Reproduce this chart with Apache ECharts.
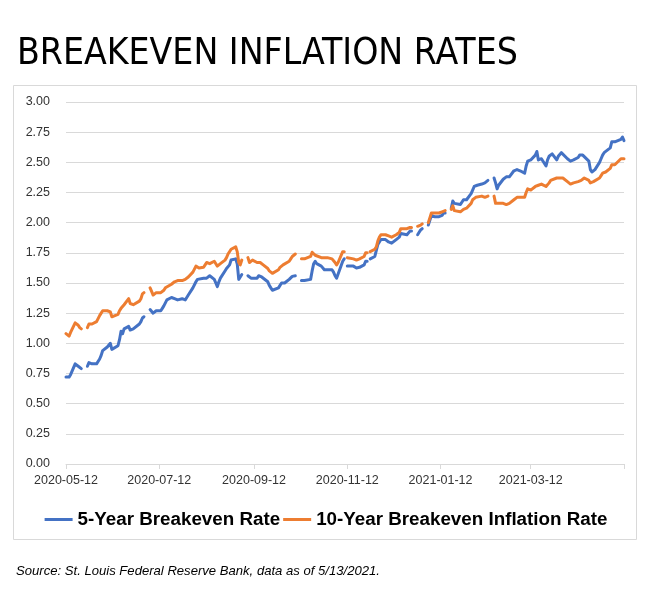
<!DOCTYPE html>
<html lang="en">
<head>
<meta charset="UTF-8">
<title>Breakeven Inflation Rates</title>
<script src="https://cdn.jsdelivr.net/npm/echarts@6.0.0/dist/echarts.min.js"></script>
<style>
  html, body { margin: 0; padding: 0; background: #fff; }
  #chart { width: 652px; height: 599px; }
</style>
</head>
<body>
<div id="chart"></div>
<script>
// trading days run from firstDay to lastDay (Mon-Fri); holidays are null in the series
var firstDay = '2020-05-12';
var lastDay = '2021-05-12';
var tickDates = ['2020-05-12', '2020-07-12', '2020-09-12', '2020-11-12', '2021-01-12', '2021-03-12', '2021-05-12'];
var labelDates = ['2020-05-12', '2020-07-12', '2020-09-12', '2020-11-12', '2021-01-12', '2021-03-12'];
var seriesNames = ['5-Year Breakeven Rate', '10-Year Breakeven Inflation Rate'];

var fiveYear = [
  // May 2020
  0.72, 0.71, 0.72, 0.74, 0.83, 0.82, 0.81, 0.80, 0.79, null, 0.81, 0.84, 0.83, 0.83,
  // Jun
  0.83, 0.83, 0.87, 0.90, 0.94, 0.97, 0.98, 1.00, 0.95, 0.95, 0.98, 1.03, 1.10, 1.08, 1.12,
  1.14, 1.11, 1.10, 1.12, 1.12, 1.16, 1.18,
  // Jul
  1.21, 1.22, null, 1.28, 1.27, 1.25, 1.26, 1.27, 1.27, 1.29, 1.31, 1.32, 1.36,
  1.38, 1.39, 1.37, 1.36, 1.36, 1.37, 1.37, 1.36, 1.38, 1.40,
  // Aug
  1.46, 1.47, 1.51, 1.53, 1.53, 1.54, 1.55, 1.54, 1.55, 1.56, 1.53, 1.50, 1.47, 1.51, 1.54,
  1.60, 1.62, 1.63, 1.65, 1.69, 1.70,
  // Sep
  1.66, 1.53, 1.52, 1.57, null, 1.56, 1.555, 1.54, 1.55, 1.54, 1.56, 1.57, 1.55, 1.54,
  1.51, 1.48, 1.46, 1.44, 1.43, 1.46, 1.48, 1.50,
  // Oct
  1.49, 1.50, 1.53, 1.54, 1.555, 1.56, 1.56, null, 1.52, 1.52, 1.52, 1.52,
  1.53, 1.60, 1.66, 1.68, 1.66, 1.64, 1.63, 1.61, 1.60, 1.61,
  // Nov
  1.61, 1.59, 1.56, 1.54, 1.55, 1.68, 1.70, null, 1.64, 1.64, 1.64, 1.63, 1.625, 1.63, 1.63,
  1.65, 1.68, 1.68, null, 1.70, 1.72,
  // Dec
  1.77, 1.82, 1.84, 1.86, 1.86, 1.86, 1.84, 1.83, 1.83, 1.86, 1.87, 1.88, 1.91, 1.91,
  1.90, 1.91, 1.93, 1.93, null, 1.90, 1.92, 1.94, 1.95,
  // Jan 2021
  null, 1.98, 2.02, 2.06, 2.07, 2.05, 2.05, 2.04, 2.06, 2.08, 2.08,
  null, 2.12, 2.18, 2.16, 2.15, 2.15, 2.14, 2.19, 2.20, 2.19,
  // Feb
  2.24, 2.27, 2.30, 2.31, 2.31, 2.32, 2.33, 2.33, 2.34, 2.35,
  null, 2.37, 2.33, 2.28, 2.31, 2.36, 2.36, 2.38, 2.38, 2.38,
  // Mar
  2.43, 2.44, 2.44, 2.43, 2.43, 2.41, 2.47, 2.51, 2.52, 2.52, 2.56, 2.59, 2.52, 2.52, 2.53,
  2.47, 2.52, 2.55, 2.56, 2.57, 2.52, 2.55, 2.56,
  // Apr
  2.58, 2.58, 2.53, 2.53, 2.51, 2.51, 2.52, 2.54, 2.56, 2.56, 2.56, 2.55,
  2.51, 2.44, 2.42, 2.43, 2.44, 2.50, 2.53, 2.56, 2.58, 2.59,
  // May
  2.62, 2.67, 2.66, 2.67, 2.67, 2.69, 2.71, 2.68
];

var tenYear = [
  // May 2020
  1.08, 1.07, 1.06, 1.09, 1.17, 1.16, 1.15, 1.13, 1.12, null, 1.13, 1.16, 1.15, 1.16,
  // Jun
  1.18, 1.19, 1.23, 1.25, 1.27, 1.27, 1.27, 1.26, 1.22, 1.22, 1.24, 1.27, 1.29, 1.30, 1.32,
  1.37, 1.33, 1.32, 1.32, 1.33, 1.35, 1.37,
  // Jul
  1.41, 1.42, null, 1.46, 1.43, 1.40, 1.41, 1.42, 1.42, 1.42, 1.44, 1.46, 1.46,
  1.49, 1.50, 1.51, 1.51, 1.52, 1.52, 1.52, 1.53, 1.53, 1.55,
  // Aug
  1.59, 1.60, 1.64, 1.63, 1.625, 1.63, 1.65, 1.67, 1.66, 1.66, 1.68, 1.66, 1.64, 1.63, 1.66,
  1.69, 1.71, 1.74, 1.75, 1.78, 1.80,
  // Sep
  1.76, 1.67, 1.65, 1.69, null, 1.71, 1.67, 1.68, 1.69, 1.67, 1.675, 1.67, 1.66, 1.65,
  1.62, 1.60, 1.59, 1.58, 1.58, 1.61, 1.63, 1.63,
  // Oct
  1.65, 1.66, 1.68, 1.70, 1.72, 1.73, 1.74, null, 1.70, 1.70, 1.70, 1.70,
  1.72, 1.755, 1.75, 1.73, 1.72, 1.71, 1.71, 1.71, 1.70, 1.71,
  // Nov
  1.70, 1.69, 1.67, 1.65, 1.67, 1.76, 1.76, null, 1.71, 1.71, 1.70, 1.69, 1.69, 1.70, 1.70,
  1.72, 1.75, 1.75, null, 1.76, 1.78,
  // Dec
  1.80, 1.85, 1.88, 1.90, 1.90, 1.90, 1.89, 1.88, 1.88, 1.90, 1.91, 1.92, 1.95, 1.95,
  1.95, 1.95, 1.96, 1.96, null, 1.97, 1.97, 1.98, 1.99,
  // Jan 2021
  null, 2.00, 2.04, 2.08, 2.09, 2.08, 2.08, 2.09, 2.09, 2.10, 2.10,
  null, 2.11, 2.14, 2.10, 2.09, 2.09, 2.09, 2.11, 2.12, 2.12,
  // Feb
  2.16, 2.19, 2.20, 2.21, 2.22, 2.22, 2.21, 2.21, 2.22, 2.22,
  null, 2.22, 2.16, 2.15, 2.16, 2.16, 2.17, 2.15, 2.15, 2.16,
  // Mar
  2.19, 2.20, 2.21, 2.21, 2.21, 2.21, 2.25, 2.28, 2.27, 2.27, 2.30, 2.31, 2.31, 2.31, 2.32,
  2.30, 2.31, 2.33, 2.35, 2.36, 2.37, 2.36, 2.37,
  // Apr
  2.37, 2.37, 2.34, 2.33, 2.32, 2.32, 2.33, 2.34, 2.34, 2.35, 2.36, 2.37,
  2.35, 2.33, 2.33, 2.34, 2.34, 2.37, 2.39, 2.41, 2.42, 2.42,
  // May
  2.45, 2.48, 2.48, 2.48, 2.49, 2.53, 2.54, 2.53
];

function toTime(s) {
  var p = s.split('-');
  return new Date(+p[0], +p[1] - 1, +p[2]).getTime();
}
function pad(n) { return n < 10 ? '0' + n : '' + n; }
function fmtDate(t) {
  var d = new Date(t);
  return d.getFullYear() + '-' + pad(d.getMonth() + 1) + '-' + pad(d.getDate());
}

// weekdays between the first and last date
var tradingDays = [];
var cur = new Date(toTime(firstDay));
var end = new Date(toTime(lastDay));
while (cur <= end) {
  if (cur.getDay() !== 0 && cur.getDay() !== 6) tradingDays.push(cur.getTime());
  cur.setDate(cur.getDate() + 1);
}

function pairs(values) {
  return tradingDays.map(function (t, i) { return [t, values[i] == null ? '-' : values[i]]; });
}

var myChart = echarts.init(document.getElementById('chart'));
var option = {
  animation: false,
  backgroundColor: '#ffffff',
  title: {
    text: 'BREAKEVEN INFLATION RATES',
    left: 12,
    top: 31,
    textStyle: { fontFamily: 'DejaVu Sans Condensed', fontSize: 37, fontWeight: 'normal', color: '#000' }
  },
  graphic: [
    {
      type: 'rect',
      shape: { x: 13.5, y: 85.5, width: 623, height: 454 },
      style: { fill: 'none', stroke: '#d9d9d9', lineWidth: 1 },
      z: -1
    },
    {
      type: 'text',
      left: 16,
      top: 565,
      style: {
        text: 'Source: St. Louis Federal Reserve Bank, data as of 5/13/2021.',
        fontFamily: 'Liberation Sans', fontStyle: 'italic', fontSize: 13.1, fill: '#000'
      }
    }
  ],
  legend: {
    data: seriesNames,
    left: 'center',
    top: 505,
    icon: 'rect',
    itemWidth: 28,
    itemHeight: 3,
    itemGap: 3,
    textStyle: { fontFamily: 'Liberation Sans', fontSize: 18.8, fontWeight: 'bold', color: '#000' }
  },
  grid: { left: 66, right: 28, top: 102, bottom: 135, outerBoundsMode: 'none' },
  xAxis: {
    type: 'value',
    min: toTime(firstDay),
    max: toTime(lastDay),
    axisLine: { show: true, onZero: false, lineStyle: { color: '#d9d9d9', width: 1 } },
    axisTick: { show: true, length: 5, lineStyle: { color: '#d9d9d9' }, customValues: tickDates.map(toTime) },
    axisLabel: {
      customValues: labelDates.map(toTime),
      formatter: function (v) { return fmtDate(v); },
      fontFamily: 'Liberation Sans', fontSize: 12.5, color: '#333', margin: 10
    },
    splitLine: { show: false }
  },
  yAxis: {
    type: 'value',
    min: 0,
    max: 3,
    interval: 0.25,
    axisLine: { show: false },
    axisTick: { show: false },
    axisLabel: {
      formatter: function (v) { return v.toFixed(2); },
      fontFamily: 'Liberation Sans', fontSize: 12.5, color: '#333', margin: 16
    },
    splitLine: { lineStyle: { color: '#d9d9d9', width: 1 } }
  },
  series: [
    {
      name: seriesNames[0],
      type: 'line',
      data: pairs(fiveYear),
      showSymbol: false,
      connectNulls: false,
      lineStyle: { width: 3, color: '#4472c4', cap: 'round', join: 'round' },
      itemStyle: { color: '#4472c4' }
    },
    {
      name: seriesNames[1],
      type: 'line',
      data: pairs(tenYear),
      showSymbol: false,
      connectNulls: false,
      lineStyle: { width: 3, color: '#ed7d31', cap: 'round', join: 'round' },
      itemStyle: { color: '#ed7d31' }
    }
  ]
};
myChart.setOption(option);
</script>
</body>
</html>
